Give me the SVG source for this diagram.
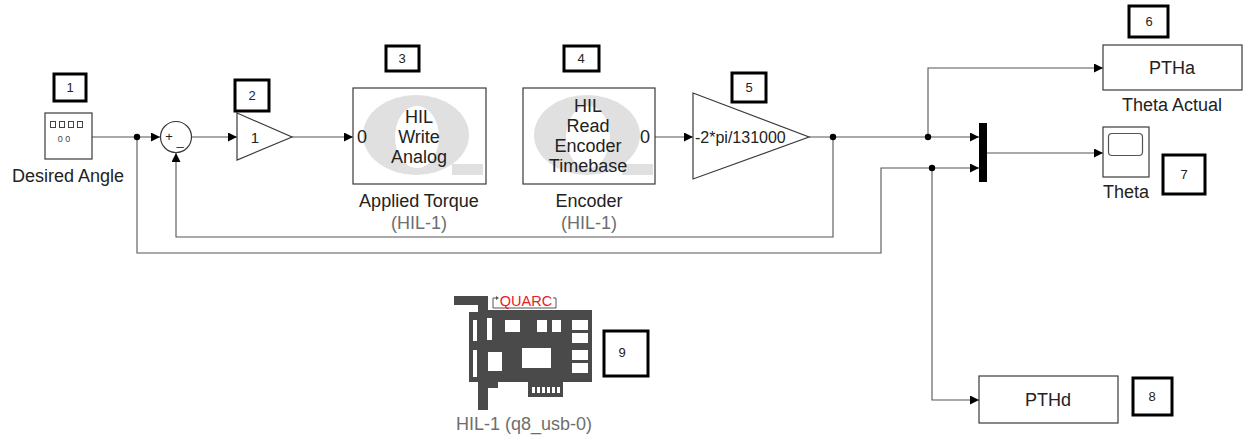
<svg xmlns="http://www.w3.org/2000/svg" width="1244" height="442" viewBox="0 0 1244 442">
  <style>
    .blk { fill: #ffffff; stroke: #3a3a3a; stroke-width: 1.2; }
    .wire { fill: none; stroke: #555555; stroke-width: 1.1; }
    .tag { fill: #ffffff; stroke: #000000; stroke-width: 3; }
    .tagtxt { font-family: "Liberation Sans", Arial, sans-serif; font-size: 13px; fill: #222222; text-anchor: middle; }
    .txt { font-family: "Liberation Sans", Arial, sans-serif; font-size: 18px; fill: #222222; text-anchor: middle; }
    .sub { font-family: "Liberation Sans", Arial, sans-serif; font-size: 18px; fill: #6e6e6e; text-anchor: middle; }
    .port { font-family: "Liberation Sans", Arial, sans-serif; font-size: 18px; fill: #222222; }
    .wm { fill: #e0e0e0; fill-rule: evenodd; }
    .dot { fill: #000000; }
    .card { fill: #4a4a4a; }
    .hole { fill: #ffffff; }
  </style>
  <defs>
    <marker id="arrow" viewBox="0 0 10 10" refX="10" refY="5" markerWidth="10" markerHeight="9" markerUnits="userSpaceOnUse" orient="auto">
      <path d="M0,0 L10,5 L0,10 z" fill="#000000"/>
    </marker>
  </defs>

  <rect x="0" y="0" width="1244" height="442" fill="#ffffff"/>

  <!-- connectors -->
  <g id="connectors">
    <path class="wire" d="M92,137 H160" marker-end="url(#arrow)"/>
    <path class="wire" d="M192,137 H237" marker-end="url(#arrow)"/>
    <path class="wire" d="M292,137 H353" marker-end="url(#arrow)"/>
    <path class="wire" d="M655,137 H693" marker-end="url(#arrow)"/>
    <path class="wire" d="M809,137 H979" marker-end="url(#arrow)"/>
    <path class="wire" d="M928,137 V68 H1103" marker-end="url(#arrow)"/>
    <path class="wire" d="M833,137 V237 H176 V153" marker-end="url(#arrow)"/>
    <path class="wire" d="M137,137 V253 H881 V168 H979" marker-end="url(#arrow)"/>
    <path class="wire" d="M932,168 V400 H979" marker-end="url(#arrow)"/>
    <path class="wire" d="M987,153 H1103" marker-end="url(#arrow)"/>
    <circle class="dot" cx="137" cy="137" r="3.2"/>
    <circle class="dot" cx="833" cy="137" r="3.2"/>
    <circle class="dot" cx="928" cy="137" r="3.2"/>
    <circle class="dot" cx="932" cy="168" r="3.2"/>
  </g>

  <!-- 1: Desired Angle source -->
  <g id="desired-angle">
    <rect class="blk" x="45" y="113" width="47" height="46"/>
    <g fill="none" stroke="#444444" stroke-width="1">
      <rect x="50.5" y="121.5" width="5" height="6"/>
      <rect x="59.5" y="121.5" width="5" height="6"/>
      <rect x="68.5" y="121.5" width="5" height="6"/>
      <rect x="77.5" y="121.5" width="5" height="6"/>
    </g>
    <text x="64" y="142" font-family="Liberation Sans, Arial, sans-serif" font-size="9" fill="#444444" text-anchor="middle">0 0</text>
    <text class="txt" x="68" y="182">Desired Angle</text>
    <rect class="tag" x="54" y="74" width="32" height="27"/>
    <text class="tagtxt" x="70" y="92">1</text>
  </g>

  <!-- sum -->
  <g id="sum">
    <circle class="blk" cx="176" cy="137" r="15.5"/>
    <text x="169" y="141" font-family="Liberation Sans, Arial, sans-serif" font-size="13" fill="#222222" text-anchor="middle">+</text>
    <text x="180" y="145" font-family="Liberation Sans, Arial, sans-serif" font-size="13" fill="#222222" text-anchor="middle">_</text>
  </g>

  <!-- 2: unit gain -->
  <g id="gain-1">
    <polygon class="blk" points="237,113 292,137 237,160"/>
    <text x="255" y="143" font-family="Liberation Sans, Arial, sans-serif" font-size="15" fill="#222222" text-anchor="middle">1</text>
    <rect class="tag" x="235" y="80" width="34" height="31"/>
    <text class="tagtxt" x="252" y="100">2</text>
  </g>

  <!-- 3: HIL Write Analog -->
  <g id="hil-write">
    <rect class="blk" x="353" y="88" width="133" height="96"/>
    <path class="wm" d="M363,135 A53,40 0 1 1 469,135 A53,40 0 1 1 363,135 Z M395,137 A22,31 0 1 0 439,137 A22,31 0 1 0 395,137 Z"/>
    <rect class="wm" x="452" y="164" width="31" height="11"/>
    <text class="port" x="357" y="143">0</text>
    <text class="txt" x="419" y="123">HIL</text>
    <text class="txt" x="419" y="143">Write</text>
    <text class="txt" x="419" y="163">Analog</text>
    <text class="txt" x="419" y="207">Applied Torque</text>
    <text class="sub" x="419" y="229">(HIL-1)</text>
    <rect class="tag" x="386" y="46" width="33" height="25"/>
    <text class="tagtxt" x="402" y="63">3</text>
  </g>

  <!-- 4: HIL Read Encoder Timebase -->
  <g id="hil-read">
    <rect class="blk" x="523" y="88" width="132" height="96"/>
    <path class="wm" d="M534,135 A53,40 0 1 1 640,135 A53,40 0 1 1 534,135 Z M566,137 A22,31 0 1 0 610,137 A22,31 0 1 0 566,137 Z"/>
    <rect class="wm" x="622" y="164" width="31" height="11"/>
    <text class="port" x="640" y="143">0</text>
    <text class="txt" x="588" y="112">HIL</text>
    <text class="txt" x="588" y="132">Read</text>
    <text class="txt" x="588" y="152">Encoder</text>
    <text class="txt" x="588" y="172">Timebase</text>
    <text class="txt" x="589" y="207">Encoder</text>
    <text class="sub" x="589" y="229">(HIL-1)</text>
    <rect class="tag" x="564" y="46" width="35" height="25"/>
    <text class="tagtxt" x="581" y="63">4</text>
  </g>

  <!-- 5: counts-to-radians gain -->
  <g id="gain-counts">
    <polygon class="blk" points="693,93 809,137 693,179"/>
    <text x="695" y="143" font-family="Liberation Sans, Arial, sans-serif" font-size="16" fill="#222222">-2*pi/131000</text>
    <rect class="tag" x="732" y="73" width="34" height="29"/>
    <text class="tagtxt" x="749" y="92">5</text>
  </g>

  <!-- 6: PTHa -->
  <g id="ptha">
    <rect class="blk" x="1103" y="45" width="139" height="45"/>
    <text class="txt" x="1172" y="74">PTHa</text>
    <text class="txt" x="1172" y="111">Theta Actual</text>
    <rect class="tag" x="1129" y="6" width="39" height="31"/>
    <text class="tagtxt" x="1149" y="26">6</text>
  </g>

  <!-- mux -->
  <g id="mux">
    <rect x="979" y="123" width="8" height="59" fill="#000000"/>
  </g>

  <!-- 7: scope -->
  <g id="scope">
    <rect class="blk" x="1103" y="127" width="46" height="50"/>
    <rect x="1108.5" y="133.5" width="34" height="22" rx="3.5" fill="#ffffff" stroke="#555555" stroke-width="1.2"/>
    <text class="txt" x="1126" y="198">Theta</text>
    <rect class="tag" x="1163" y="155" width="42" height="39"/>
    <text class="tagtxt" x="1184" y="179">7</text>
  </g>

  <!-- 8: PTHd -->
  <g id="pthd">
    <rect class="blk" x="979" y="376" width="139" height="47"/>
    <text class="txt" x="1048" y="406">PTHd</text>
    <rect class="tag" x="1133" y="378" width="39" height="37"/>
    <text class="tagtxt" x="1152" y="401">8</text>
  </g>

  <!-- 9: HIL board -->
  <g id="hil-board">
    <rect class="card" x="454" y="296" width="34" height="9"/>
    <rect class="card" x="478" y="296" width="10" height="114"/>
    <rect class="card" x="469" y="312" width="20" height="70"/>
    <rect class="card" x="488" y="310" width="104" height="72"/>
    <rect class="card" x="478" y="380" width="20" height="8"/>
    <rect class="card" x="528" y="380" width="35" height="17"/>
    <rect class="hole" x="473" y="320" width="4" height="21"/>
    <rect class="hole" x="473" y="350" width="4" height="27"/>
    <rect class="hole" x="487" y="318" width="5" height="22"/>
    <rect class="hole" x="505" y="320" width="15" height="12"/>
    <rect class="hole" x="537" y="320" width="10" height="12"/>
    <rect class="hole" x="552" y="320" width="9" height="12"/>
    <rect class="hole" x="572" y="320" width="16" height="10"/>
    <rect class="hole" x="572" y="333" width="16" height="10"/>
    <rect class="hole" x="572" y="350" width="16" height="10"/>
    <rect class="hole" x="572" y="363" width="16" height="10"/>
    <rect class="hole" x="522" y="348" width="29" height="20"/>
    <rect class="hole" x="488" y="352" width="14" height="19"/>
    <g class="hole">
      <rect x="532" y="387" width="3" height="6"/>
      <rect x="537" y="387" width="3" height="6"/>
      <rect x="542" y="387" width="3" height="6"/>
      <rect x="547" y="387" width="3" height="6"/>
      <rect x="552" y="387" width="3" height="6"/>
      <rect x="557" y="387" width="3" height="6"/>
    </g>
    <path d="M493,308 V298 H497 M553,298 H556 V308 H493" fill="none" stroke="#555555" stroke-width="1"/>
    <path d="M496,296 L499,298 L496,300 z" fill="#555555"/>
    <text x="526" y="305.5" font-family="Liberation Sans, Arial, sans-serif" font-size="14.5" fill="#e8202a" text-anchor="middle">QUARC</text>
    <text class="sub" x="524" y="430">HIL-1 (q8_usb-0)</text>
    <rect class="tag" x="604" y="331" width="44" height="45"/>
    <text class="tagtxt" x="622" y="357">9</text>
  </g>
</svg>
